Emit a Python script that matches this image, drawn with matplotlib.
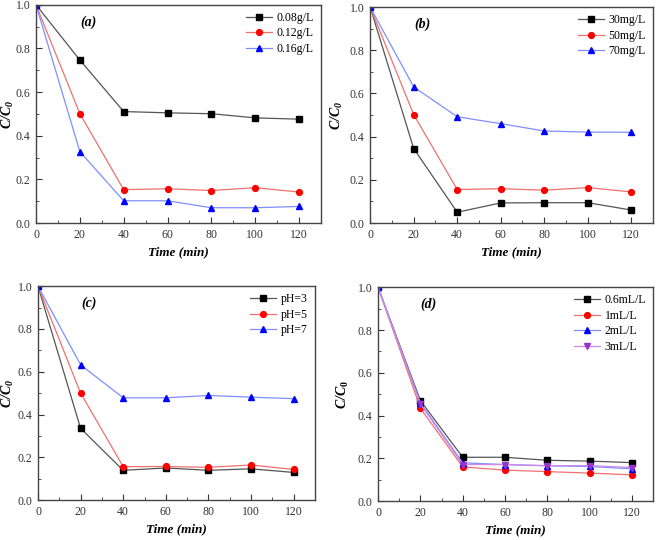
import numpy as np
import matplotlib
matplotlib.use('Agg')
import matplotlib.pyplot as plt
from matplotlib.ticker import MultipleLocator

plt.rcParams['font.family'] = 'Liberation Serif'
plt.rcParams['mathtext.fontset'] = 'custom'
plt.rcParams['mathtext.rm'] = 'Liberation Serif'
plt.rcParams['mathtext.it'] = 'Liberation Serif:italic'
plt.rcParams['mathtext.bf'] = 'Liberation Serif:bold'
plt.rcParams['mathtext.bfit'] = 'Liberation Serif:bold:italic'

time = [0, 20, 40, 60, 80, 100, 120]

# (a) dosage
labels_a = ["0.08g/L", "0.12g/L", "0.16g/L"]
dose_008 = [1.0, 0.747, 0.511, 0.505, 0.501, 0.482, 0.476]
dose_012 = [1.0, 0.501, 0.153, 0.157, 0.149, 0.162, 0.142]
dose_016 = [1.0, 0.327, 0.102, 0.102, 0.070, 0.070, 0.076]

# (b) initial concentration
labels_b = ["30mg/L", "50mg/L", "70mg/L"]
conc_30 = [1.0, 0.345, 0.050, 0.093, 0.094, 0.094, 0.060]
conc_50 = [1.0, 0.502, 0.155, 0.159, 0.152, 0.164, 0.144]
conc_70 = [1.0, 0.630, 0.492, 0.460, 0.426, 0.421, 0.420]

# (c) pH
labels_c = ["pH=3", "pH=5", "pH=7"]
ph_3 = [1.0, 0.335, 0.139, 0.150, 0.139, 0.146, 0.129]
ph_5 = [1.0, 0.500, 0.156, 0.157, 0.153, 0.164, 0.143]
ph_7 = [1.0, 0.632, 0.478, 0.478, 0.489, 0.481, 0.474]

# (d) oxidant volume
labels_d = ["0.6mL/L", "1mL/L", "2mL/L", "3mL/L"]
vol_06 = [1.0, 0.470, 0.205, 0.205, 0.191, 0.187, 0.180]
vol_1 = [1.0, 0.434, 0.160, 0.145, 0.138, 0.131, 0.123]
vol_2 = [1.0, 0.459, 0.179, 0.171, 0.165, 0.162, 0.151]
vol_3 = [1.0, 0.454, 0.171, 0.171, 0.166, 0.166, 0.157]

styles = [
    ('s', 'black', '#555555'),
    ('o', 'red', '#f07070'),
    ('^', 'blue', '#7f8fff'),
    ('v', '#9933cc', '#cc88ee'),
]


def draw_panel(ax, series, labels, tag, ylab_x, sub_upright=False):
    for i, (y, lab) in enumerate(zip(series, labels)):
        m, mc, lc = styles[i]
        ax.plot(time, y, color=lc, lw=0.9, marker=m, ms=4.2,
                mfc=mc, mec=mc, label=lab)
    ax.set_xlim(0, 130)
    ax.set_ylim(0, 1.0)
    ax.xaxis.set_major_locator(MultipleLocator(20))
    ax.xaxis.set_minor_locator(MultipleLocator(10))
    ax.yaxis.set_major_locator(MultipleLocator(0.2))
    ax.yaxis.set_minor_locator(MultipleLocator(0.1))
    ax.tick_params(which='both', direction='in', labelsize=8.5, colors='#333333',
                   top=False, right=False)
    ax.tick_params(which='major', length=4, pad=4)
    ax.tick_params(which='minor', length=2)
    ax.set_xticks([0, 20, 40, 60, 80, 100, 120])
    for s in ax.spines.values():
        s.set_color('#444444')
        s.set_linewidth(1.0)
    ax.set_xlabel('Time (min)', fontsize=9.5, fontweight='bold', style='italic', labelpad=4)
    if sub_upright:
        ax.set_ylabel(r'$\mathbfit{C/C}_{\mathbf{0}}$', fontsize=10)
    else:
        ax.set_ylabel(r'$\mathbfit{C/C_0}$', fontsize=10)
    ax.yaxis.set_label_coords(ylab_x, 0.5)
    ax.text(0.155, 0.92, tag, transform=ax.transAxes, fontsize=10,
            fontweight='bold', style='italic', va='center')
    ax.legend(loc='upper right', frameon=False, fontsize=8.5, handlelength=2.2,
              handletextpad=0.4, labelspacing=0.3, borderaxespad=0.2)


fig = plt.figure(figsize=(6.61, 5.40), dpi=100)
ax_a = fig.add_axes([0.0545, 0.587, 0.431, 0.404])
ax_b = fig.add_axes([0.560, 0.587, 0.428, 0.400])
ax_c = fig.add_axes([0.0575, 0.074, 0.419, 0.396])
ax_d = fig.add_axes([0.572, 0.072, 0.416, 0.396])

draw_panel(ax_a, [dose_008, dose_012, dose_016], labels_a, '(a)', -0.07)
draw_panel(ax_b, [conc_30, conc_50, conc_70], labels_b, '(b)', -0.088)
draw_panel(ax_c, [ph_3, ph_5, ph_7], labels_c, '(c)', -0.08)
draw_panel(ax_d, [vol_06, vol_1, vol_2, vol_3], labels_d, '(d)', -0.1, sub_upright=True)

fig.savefig('out.png', dpi=100)
